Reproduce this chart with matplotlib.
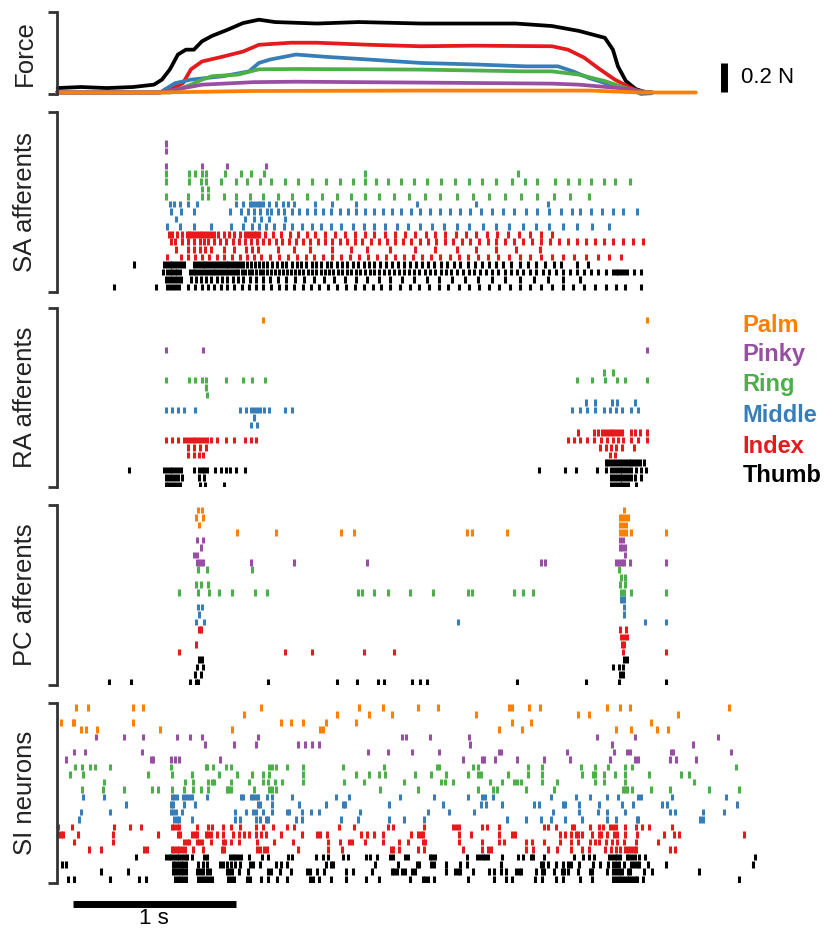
import matplotlib
matplotlib.use("Agg")
import matplotlib.pyplot as plt
from matplotlib.transforms import blended_transform_factory

plt.rcParams['font.family'] = ['Liberation Sans', 'DejaVu Sans']

# ---------------- categories / colours ----------------
groups = ['Palm', 'Pinky', 'Ring', 'Middle', 'Index', 'Thumb']
group_colors = ['#FF7F00', '#984EA3', '#4DAF4A', '#377EB8', '#E41A1C', '#000000']
panel_labels = ['SA afferents', 'RA afferents', 'PC afferents', 'SI neurons']

# ---------------- force traces (time in ms, force in N) ----------------
force_time_thumb = [4, 147, 307, 466, 595, 644, 693, 742, 791, 840, 890, 951, 1049, 1141, 1239, 1337,
                    1595, 1853, 2233, 2816, 3037, 3202, 3362, 3411, 3442, 3491, 3552, 3607, 3650]
force_thumb = [0.030, 0.037, 0.030, 0.037, 0.053, 0.087, 0.157, 0.257, 0.290, 0.290, 0.347, 0.383, 0.426,
               0.470, 0.493, 0.477, 0.467, 0.477, 0.467, 0.467, 0.450, 0.417, 0.370, 0.290, 0.177, 0.077,
               0.023, 0.003, 0.0]
force_time_index = [0, 600, 663, 773, 822, 890, 1018, 1141, 1239, 1436, 1595, 1914, 2233, 2558, 3037, 3135,
                    3233, 3331, 3423, 3522, 3571, 3650]
force_index = [0, 0, 0.003, 0.063, 0.157, 0.210, 0.243, 0.277, 0.323, 0.337, 0.337, 0.323, 0.313, 0.317,
               0.313, 0.290, 0.237, 0.157, 0.087, 0.030, 0.010, 0]
force_time_middle = [0, 632, 724, 822, 1018, 1178, 1239, 1307, 1466, 1656, 1914, 2233, 2558, 2877, 3074, 3166,
                     3264, 3393, 3522, 3583, 3650]
force_middle = [0, 0, 0.063, 0.087, 0.110, 0.143, 0.200, 0.223, 0.257, 0.241, 0.223, 0.200, 0.190, 0.177,
                0.177, 0.143, 0.098, 0.053, 0.019, -0.010, -0.005]
force_time_ring = [0, 693, 822, 890, 951, 1110, 1239, 1466, 2233, 2877, 3037, 3202, 3362, 3491, 3552, 3650]
force_ring = [0, 0, 0.053, 0.087, 0.110, 0.121, 0.157, 0.159, 0.155, 0.143, 0.143, 0.121, 0.077, 0.030,
              0.010, 0]
force_time_pinky = [0, 632, 890, 1209, 1466, 2233, 3037, 3202, 3522, 3607, 3650]
force_pinky = [0, 0, 0.053, 0.070, 0.073, 0.067, 0.060, 0.053, 0.023, 0, 0]
force_time_palm = [0, 632, 1184, 2227, 3270, 3577, 3920]
force_palm = [0, 0, 0.010, 0.013, 0.013, 0, 0]

# ---------------- spike times (ms); each group: 4 units, top to bottom ----------------
# SA afferents
sa_palm = [[], [], [], []]
sa_pinky = [[671], [671], [], [667, 891, 1045, 1283]]
sa_ring = [
    [671, 807, 847, 891, 917, 1030, 1129, 1188, 1272, 1888, 2827],
    [671, 807, 884, 917, 1008, 1096, 1166, 1243, 1316, 1397, 1481, 1566, 1650, 1734, 1815, 1888, 1958, 2031,
     2108, 2189, 2270, 2354, 2442, 2530, 2607, 2695, 2794, 2871, 2948, 3054, 3135, 3201, 3278, 3355, 3421, 3516],
    [891, 924],
    [667, 803, 887, 924, 1023, 1100, 1184, 1265, 1353, 1441, 1536, 1624, 1716, 1804, 1888, 1976, 2068, 2160,
     2255, 2350, 2453, 2552, 2651, 2750, 2849, 2944, 3047, 3146, 3267],
]
sa_middle = [
    [693, 719, 752, 803, 862, 1100, 1144, 1184, 1199, 1214, 1232, 1247, 1265, 1298, 1342, 1386, 1419, 1452,
     1584, 1690, 1833, 2211, 2574, 3014],
    [697, 759, 843, 1063, 1126, 1170, 1210, 1247, 1287, 1316, 1357, 1393, 1441, 1485, 1533, 1584, 1632, 1683,
     1734, 1786, 1837, 1892, 1947, 2002, 2057, 2112, 2174, 2229, 2288, 2350, 2409, 2471, 2537, 2603, 2669,
     2735, 2805, 2878, 2948, 3021, 3091, 3157, 3212, 3278, 3344, 3410, 3476, 3560],
    [730, 1155, 1206, 1250, 1298, 1397],
    [678, 752, 840, 946, 1067, 1144, 1199, 1239, 1280, 1331, 1393, 1445, 1503, 1562, 1621, 1679, 1745, 1815,
     1881, 1947, 2013, 2086, 2156, 2229, 2299, 2376, 2453, 2530, 2614, 2695, 2772, 2860, 2937, 3021, 3102,
     3190, 3285, 3388],
]
sa_index = [
    [686, 704, 737, 770, 796, 810, 825, 840, 858, 876, 891, 906, 924, 946, 964, 990, 1023, 1056, 1089, 1122,
     1155, 1173, 1188, 1206, 1221, 1239, 1276, 1327, 1375, 1430, 1481, 1536, 1584, 1646, 1705, 1767, 1826,
     1888, 1947, 2013, 2072, 2134, 2196, 2262, 2321, 2383, 2449, 2508, 2574, 2636, 2702, 2768, 2834, 2900,
     2970, 3036],
    [697, 726, 770, 803, 840, 876, 902, 928, 964, 1001, 1038, 1078, 1118, 1155, 1192, 1228, 1265, 1298, 1342,
     1382, 1423, 1467, 1511, 1555, 1599, 1643, 1690, 1734, 1782, 1826, 1874, 1925, 1973, 2024, 2072, 2123,
     2174, 2226, 2277, 2328, 2380, 2431, 2486, 2537, 2589, 2644, 2695, 2750, 2805, 2860, 2915, 2970, 3025,
     3080, 3135, 3190, 3245, 3300, 3355, 3414, 3476, 3535, 3597],
    [730, 803, 840, 876, 906, 946, 1023, 1089, 1162, 1199, 1232, 1353, 1452, 1551, 1690, 1804, 1903, 2042,
     2196, 2321, 2453, 2574, 2695, 2816, 2966],
    [678, 759, 803, 847, 891, 931, 979, 1023, 1074, 1122, 1166, 1210, 1254, 1309, 1364, 1419, 1470, 1525,
     1580, 1635, 1690, 1745, 1800, 1855, 1910, 1965, 2020, 2075, 2130, 2185, 2240, 2295, 2350, 2409, 2464,
     2523, 2585, 2644, 2706, 2772, 2838, 2904, 2970, 3040, 3106, 3172, 3245, 3318, 3388, 3461],
]
sa_thumb = [
    [473, 656, 673, 691, 708, 726, 744, 761, 779, 840, 858, 876, 893, 911, 928, 946, 964, 981, 999, 1016,
     1034, 1052, 1069, 1087, 1104, 1122, 1144, 1166, 1188, 1214, 1239, 1265, 1291, 1320, 1349, 1379, 1408,
     1441, 1470, 1500, 1529, 1562, 1591, 1621, 1654, 1683, 1716, 1749, 1782, 1815, 1848, 1881, 1914, 1947,
     1980, 2017, 2053, 2090, 2127, 2163, 2200, 2237, 2277, 2314, 2354, 2394, 2435, 2475, 2519, 2563, 2607,
     2651, 2695, 2739, 2787, 2838, 2889, 2941, 2992, 3047, 3091, 3190, 3260],
    [649, 678, 693, 708, 724, 739, 755, 814, 832, 849, 867, 884, 902, 920, 937, 955, 972, 990, 1008, 1025,
     1043, 1060, 1078, 1096, 1113, 1133, 1155, 1177, 1199, 1221, 1243, 1265, 1289, 1313, 1338, 1362, 1386,
     1410, 1434, 1459, 1485, 1511, 1538, 1564, 1591, 1617, 1643, 1670, 1696, 1723, 1749, 1778, 1804, 1833,
     1861, 1890, 1918, 1947, 1976, 2004, 2035, 2066, 2097, 2127, 2158, 2189, 2222, 2255, 2288, 2321, 2354,
     2387, 2420, 2455, 2490, 2526, 2561, 2596, 2633, 2671, 2708, 2746, 2783, 2823, 2862, 2902, 2941, 2981,
     3021, 3060, 3102, 3146, 3190, 3234, 3278, 3322, 3366, 3410, 3428, 3445, 3463, 3480, 3498, 3542, 3586],
    [671, 689, 706, 724, 741, 759, 825, 854, 884, 915, 946, 979, 1012, 1045, 1078, 1111, 1144, 1184, 1221,
     1265, 1309, 1357, 1408, 1463, 1518, 1577, 1639, 1701, 1767, 1833, 1903, 1976, 2046, 2119, 2193, 2270,
     2347, 2424, 2504, 2585, 2669, 2750, 2838, 2926, 3014, 3102, 3212],
    [348, 605, 678, 695, 713, 730, 748, 803, 847, 887, 924, 964, 1005, 1045, 1089, 1133, 1177, 1221, 1265,
     1313, 1360, 1408, 1456, 1507, 1558, 1610, 1661, 1716, 1771, 1826, 1881, 1936, 1991, 2046, 2105, 2163,
     2222, 2281, 2343, 2402, 2464, 2526, 2589, 2651, 2715, 2779, 2842, 2904, 2970, 3036, 3102, 3168, 3234,
     3300, 3366, 3432, 3487, 3586],
]

# RA afferents
ra_palm = [[], [1265, 3623], [], []]
ra_pinky = [[], [671, 895, 3623], [], []]
ra_ring = [
    [3355, 3414],
    [671, 807, 847, 891, 917, 1034, 1144, 1199, 1276, 3190, 3282, 3362, 3439, 3487, 3623],
    [917],
    [922],
]
ra_middle = [
    [3245, 3300, 3406, 3439, 3549],
    [671, 708, 741, 777, 847, 1122, 1159, 1192, 1210, 1228, 1245, 1269, 1302, 1397, 1445, 3157, 3208, 3252,
     3300, 3355, 3395, 3432, 3465, 3520, 3564],
    [1210],
    [1192, 1225],
]
ra_index = [
    [3197, 3296, 3318, 3344, 3362, 3379, 3397, 3414, 3432, 3450, 3465, 3524, 3549, 3575, 3619],
    [671, 708, 741, 777, 796, 814, 832, 847, 865, 882, 902, 920, 948, 981, 1034, 1085, 1151, 1188, 1221,
     3135, 3172, 3212, 3252, 3296, 3340, 3377, 3410, 3443, 3476, 3524, 3568, 3619],
    [803, 840, 880, 913, 3333, 3366, 3399, 3432, 3465, 3542],
    [803, 840, 869, 898, 3395, 3425],
]
ra_thumb = [
    [3366, 3384, 3401, 3419, 3436, 3454, 3472, 3489, 3507, 3524, 3542, 3560, 3577, 3604],
    [440, 656, 673, 691, 708, 726, 744, 761, 840, 869, 887, 904, 922, 968, 1005, 1034, 1063, 1096, 1151,
     2959, 3117, 3186, 3311, 3366, 3399, 3417, 3434, 3452, 3469, 3487, 3505, 3522, 3553, 3582, 3612],
    [671, 689, 706, 724, 741, 766, 873, 902, 3399, 3417, 3434, 3452, 3469, 3487, 3505, 3522, 3549, 3582],
    [667, 684, 702, 719, 737, 755, 880, 909, 1023, 3399, 3417, 3434, 3452, 3469, 3487, 3505, 3553],
]

# PC afferents
pc_palm = [
    [867, 888, 3480],
    [855, 895, 3452, 3468, 3487, 3503],
    [874, 3452, 3470, 3489],
    [1106, 1346, 1743, 1825, 2514, 2547, 2761, 3456, 3475, 3494, 3524, 3734],
]
pc_pinky = [
    [862, 897, 3456, 3475],
    [885, 3452, 3468, 3485],
    [843, 860, 3487],
    [860, 876, 895, 1189, 1456, 1905, 2967, 2996, 3433, 3449, 3466, 3480, 3517, 3734],
]
pc_ring = [
    [867, 923, 1198, 3447],
    [3461, 3487],
    [852, 883, 928, 3454, 3487],
    [749, 867, 935, 991, 1071, 1217, 1290, 1847, 1872, 1945, 2032, 2168, 2307, 2519, 2547, 2805, 2862, 2923,
     3461, 3480, 3522, 3734],
]
pc_middle = [
    [3463, 3482],
    [864, 888, 3482],
    [869, 3477],
    [855, 904, 2460, 3607, 3734],
]
pc_index = [
    [871, 885, 3456, 3494],
    [3461, 3482, 3499],
    [850, 3468, 3477],
    [751, 1402, 1564, 1882, 2065, 3475, 3734],
]
pc_thumb = [
    [869, 888, 3477, 3496],
    [860, 895, 3414, 3447, 3475],
    [848, 885, 3456, 3475],
    [319, 453, 817, 855, 864, 1294, 1717, 1839, 1969, 2004, 2180, 2229, 2269, 2822, 3249, 3449, 3734],
]

# SI neurons
si_palm = [
    [115, 188, 469, 530, 1252, 1855, 2002, 2213, 2335, 2773, 2789, 2895, 2963, 3376, 3454, 3515, 4124],
    [1150, 1716, 1916, 2055, 2574, 3194, 3264, 3812],
    [25, 96, 107, 465, 1374, 1434, 1512, 1649, 1833, 2789, 2908, 3644],
    [148, 178, 244, 632, 1076, 1614, 1630, 2713, 2855, 3433, 3521, 3679, 3750],
]
si_pinky = [
    [240, 413, 526, 734, 816, 892, 1233, 2119, 2139, 2290, 2529, 3311, 3546, 4057],
    [908, 1088, 1221, 1477, 1522, 1563, 1610, 2535, 3403, 3900],
    [105, 172, 520, 1910, 2029, 2176, 2345, 2711, 2724, 3127, 3419, 3495, 3515, 3765, 3781, 4135],
    [53, 577, 591, 698, 724, 751, 1000, 2493, 2605, 2621, 2687, 2824, 2987, 3147, 3392, 3546, 3566, 3760,
     3801, 3918],
]
si_ring = [
    [111, 152, 203, 235, 327, 698, 912, 922, 955, 1039, 1068, 1303, 1321, 1344, 1409, 1507, 1757, 2004, 2329,
     2341, 2550, 2581, 2891, 2979, 3214, 3300, 3382, 3488, 3529, 4165],
    [82, 162, 561, 704, 829, 994, 1103, 1195, 1262, 1303, 1512, 1835, 1916, 1978, 2013, 2197, 2292, 2386,
     2523, 2581, 2601, 2765, 2891, 2979, 3219, 3290, 3300, 3354, 3423, 3486, 3634, 3828, 3875],
    [291, 786, 833, 929, 949, 966, 1068, 1180, 1262, 1297, 1338, 1379, 1512, 1763, 1884, 2131, 2356, 2380,
     2427, 2656, 2728, 2805, 2820, 2850, 2979, 3069, 3300, 3354, 3488, 3906],
    [152, 285, 413, 581, 622, 706, 781, 837, 882, 925, 1041, 1051, 1068, 1211, 1299, 1321, 1344, 1982, 2213,
     2581, 2673, 2697, 2875, 3051, 3470, 3484, 3499, 3529, 3642, 3760, 3998, 4186],
]
si_middle = [
    [162, 287, 708, 720, 734, 775, 790, 810, 826, 922, 1129, 1143, 1190, 1205, 1219, 1233, 1287, 1321, 1440,
     1710, 1794, 2105, 2313, 2523, 2609, 2625, 2677, 3034, 3182, 3272, 3372, 3443, 3566, 3581, 3775, 4108],
    [424, 700, 714, 781, 845, 1231, 1246, 1321, 1485, 1649, 1757, 1767, 2037, 2370, 2601, 2630, 2732, 2928,
     2957, 3106, 3118, 3202, 3327, 3464, 3536, 3713, 3746, 4170],
    [148, 327, 698, 714, 728, 767, 1094, 1158, 1205, 1219, 1266, 1321, 1409, 1424, 1501, 1557, 1610, 1859,
     2278, 2405, 2560, 3041, 3204, 3321, 3376, 3488, 3760, 3791, 3961, 4094],
    [137, 720, 734, 747, 831, 1094, 1125, 1221, 1246, 1280, 1295, 1465, 1501, 1743, 1849, 2037, 2127, 2251,
     2763, 2877, 2967, 3034, 3120, 3221, 3372, 3433, 3556, 3568, 3945, 3965],
]
si_index = [
    [8, 90, 348, 448, 514, 704, 718, 734, 751, 857, 925, 949, 1021, 1068, 1125, 1219, 1266, 1328, 1409, 1456,
     1730, 1822, 2029, 2060, 2251, 2431, 2448, 2464, 2605, 2640, 2711, 2987, 3014, 3061, 3157, 3172, 3270,
     3327, 3351, 3396, 3413, 3429, 3488, 3552, 3591, 3632, 3771],
    [8, 23, 39, 127, 346, 618, 741, 755, 831, 845, 859, 912, 929, 943, 982, 1021, 1078, 1119, 1148, 1180,
     1221, 1252, 1280, 1372, 1505, 1595, 1616, 1655, 1863, 1900, 1947, 1998, 2172, 2217, 2231, 2247, 2466,
     2538, 2711, 2793, 2809, 3086, 3120, 3153, 3182, 3198, 3219, 3284, 3327, 3341, 3376, 3419, 3437, 3488,
     3560, 3726, 3785, 3818, 4214],
    [105, 346, 781, 796, 812, 857, 871, 888, 943, 1017, 1033, 1066, 1119, 1229, 1330, 1450, 1661, 1737, 1794,
     1808, 1890, 1998, 2100, 2156, 2243, 2255, 2466, 2605, 2711, 2742, 2877, 2916, 2987, 3086, 3153, 3194,
     3270, 3304, 3327, 3366, 3403, 3437, 3478, 3552, 3685],
    [199, 270, 536, 550, 704, 718, 734, 751, 767, 784, 837, 898, 1013, 1025, 1229, 1246, 1270, 1287, 1477,
     1663, 1751, 2049, 2064, 2100, 2217, 2251, 2493, 2605, 2646, 2662, 2877, 2922, 3014, 3065, 3153, 3219,
     3266, 3362, 3398, 3427, 3454, 3488, 3505, 3521, 3538, 3554, 3760, 3795],
]
si_thumb = [
    [483, 669, 685, 702, 718, 734, 751, 767, 784, 800, 826, 902, 918, 1062, 1078, 1094, 1111, 1127, 1180,
     1260, 1293, 1419, 1444, 1589, 1634, 1665, 1753, 1784, 1896, 1921, 1961, 2043, 2064, 2135, 2152, 2288,
     2304, 2321, 2513, 2578, 2595, 2611, 2628, 2644, 2728, 2826, 2857, 2906, 2922, 2989, 3174, 3225, 3266,
     3296, 3388, 3405, 3421, 3437, 3454, 3495, 3511, 3527, 3544, 3572, 3607, 4282],
    [29, 56, 710, 726, 743, 759, 775, 792, 867, 894, 922, 1000, 1017, 1041, 1066, 1090, 1123, 1184, 1201,
     1246, 1344, 1372, 1413, 1651, 1681, 1696, 1951, 2094, 2207, 2221, 2292, 2315, 2386, 2472, 2513, 2722,
     2967, 2983, 3014, 3061, 3106, 3137, 3151, 3202, 3290, 3331, 3378, 3413, 3429, 3446, 3478, 3521, 3538,
     3556, 3572, 3628, 3736, 4272],
    [270, 434, 710, 726, 743, 759, 775, 792, 861, 878, 894, 922, 939, 1041, 1058, 1074, 1117, 1170, 1297,
     1313, 1368, 1434, 1536, 1552, 1593, 1640, 1773, 1814, 1935, 2053, 2070, 2084, 2115, 2135, 2176, 2197,
     2386, 2441, 2458, 2472, 2550, 2652, 2681, 2722, 2758, 2816, 2832, 2848, 2942, 2973, 2989, 3051, 3096,
     3110, 3137, 3194, 3270, 3282, 3372, 3413, 3429, 3446, 3464, 3501, 3515, 3603, 3648, 3940],
    [66, 107, 325, 503, 546, 724, 741, 757, 773, 790, 867, 884, 900, 916, 933, 949, 1051, 1068, 1084, 1168,
     1184, 1252, 1293, 1352, 1409, 1552, 1569, 1610, 1681, 1773, 1896, 1978, 2166, 2243, 2259, 2276, 2315,
     2519, 2681, 2758, 2789, 2932, 2973, 3061, 3106, 3208, 3280, 3413, 3429, 3446, 3462, 3478, 3495, 3511,
     3527, 3544, 3560, 3597, 4186],
]

panels_spikes = [
    [sa_palm, sa_pinky, sa_ring, sa_middle, sa_index, sa_thumb],
    [ra_palm, ra_pinky, ra_ring, ra_middle, ra_index, ra_thumb],
    [pc_palm, pc_pinky, pc_ring, pc_middle, pc_index, pc_thumb],
    [si_palm, si_pinky, si_ring, si_middle, si_index, si_thumb],
]

# scale bars
time_bar_ms = 1000
force_bar_N = 0.2

# ---------------- layout (figure pixels) ----------------
W, H = 827, 931
fig = plt.figure(figsize=(W / 100, H / 100), dpi=100)
x_left, x_right = 57, 770
xlim = (0, 4375)

def add_axes(top, bottom):
    return fig.add_axes([x_left / W, 1 - bottom / H, (x_right - x_left) / W, (bottom - top) / H])

spine_col = '#333333'

def style(ax, ylim):
    ax.set_xlim(*xlim)
    ax.set_ylim(*ylim)
    for s in ['top', 'right', 'bottom']:
        ax.spines[s].set_visible(False)
    ax.spines['left'].set_color(spine_col)
    ax.spines['left'].set_linewidth(2.0)
    ax.set_xticks([])
    ax.set_yticks(list(ylim))
    ax.set_yticklabels([])
    ax.tick_params(axis='y', direction='out', length=6.5, width=2.0, color=spine_col)
    ax.patch.set_visible(False)

# Force panel
axF = add_axes(12.3, 94)
style(axF, (-0.0103, 0.543))
traces = [
    (force_time_thumb, force_thumb, group_colors[5]),
    (force_time_index, force_index, group_colors[4]),
    (force_time_middle, force_middle, group_colors[3]),
    (force_time_ring, force_ring, group_colors[2]),
    (force_time_pinky, force_pinky, group_colors[1]),
    (force_time_palm, force_palm, group_colors[0]),
]
for tt, ff, cc in traces:
    axF.plot(tt, ff, color=cc, lw=2.7, solid_joinstyle='round', solid_capstyle='round', clip_on=False)

# force scale bar
bar_t = 4095
axF.plot([bar_t, bar_t], [0, force_bar_N], color='black', lw=5, solid_capstyle='butt', clip_on=False)
axF.text(4200, force_bar_N / 2, '0.2 N', ha='left', va='center', fontsize=16, color='black')

# Raster panels
panel_px = [(111.7, 291.7), (308.3, 486.7), (505, 685), (703, 883)]
panel_ylims = [(-0.6, 23.2), (-0.25, 23.55), (-0.4, 23.66), (-0.5, 23.57)]
raster_axes = []
for spikes, (top, bot), yl in zip(panels_spikes, panel_px, panel_ylims):
    ax = add_axes(top, bot)
    style(ax, yl)
    positions, offsets, colors = [], [], []
    for gi, grp in enumerate(spikes):
        for ri, row in enumerate(grp):
            positions.append(row)
            offsets.append(23 - (gi * 4 + ri))
            colors.append(group_colors[gi])
    ax.eventplot(positions, lineoffsets=offsets, linelengths=0.88, linewidths=2.2, colors=colors)
    raster_axes.append(ax)

# panel labels
label_col = '#222222'
fig.text(25 / W, 1 - 53 / H, 'Force', rotation=90, ha='center', va='center', fontsize=18.5, color=label_col)
for lab, (top, bot) in zip(panel_labels, panel_px):
    fig.text(25 / W, 1 - ((top + bot) / 2) / H, lab, rotation=90, ha='center', va='center',
             fontsize=18.5, color=label_col)

# legend
legend_y = [325, 355, 385, 415, 446, 476]
for name, col, yy in zip(groups, group_colors, legend_y):
    fig.text(742.3 / W, 1 - yy / H, name, color=col, fontsize=17, fontweight='bold', ha='left', va='center')

# time scale bar
axS = raster_axes[-1]
tr = blended_transform_factory(axS.transData, fig.transFigure)
t0 = 96
bar_y = 1 - 903.5 / H
axS.plot([t0, t0 + time_bar_ms], [bar_y, bar_y], transform=tr, color='black', lw=5,
         solid_capstyle='butt', clip_on=False)
axS.text(t0 + time_bar_ms / 2, 1 - 918.5 / H, '1 s', transform=tr, ha='center', va='center',
         fontsize=16, color='black')

fig.savefig('out.png', dpi=100)
